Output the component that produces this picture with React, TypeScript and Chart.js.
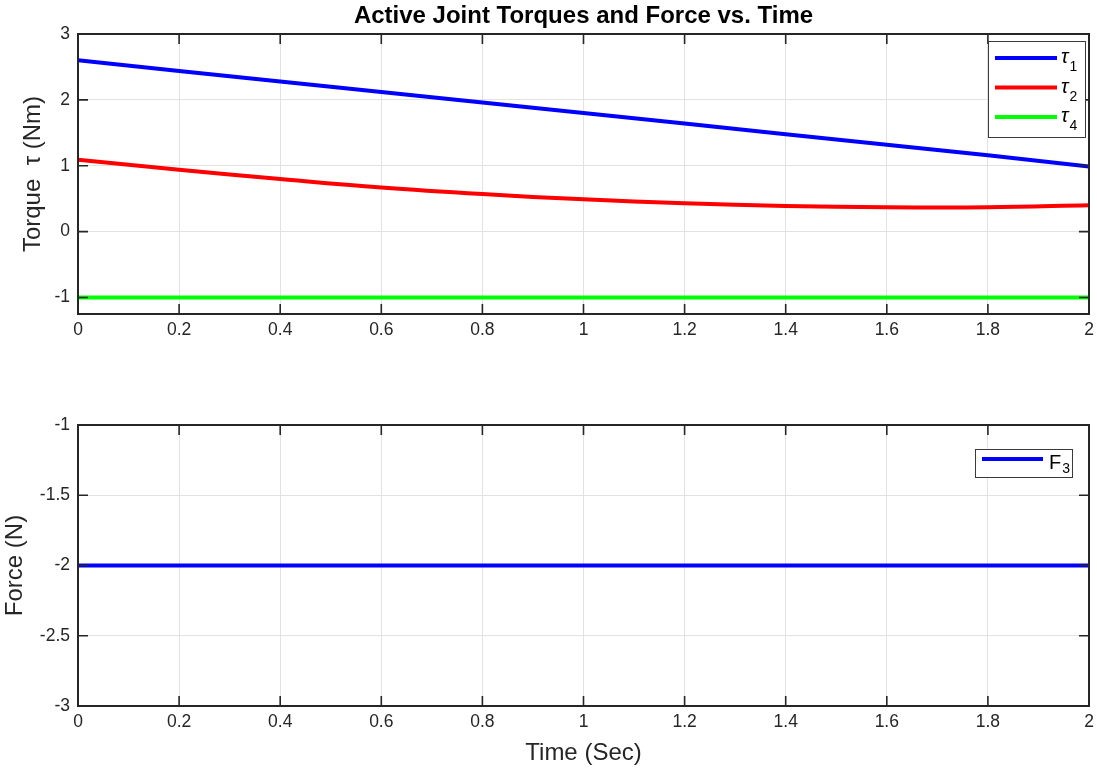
import React, { useEffect, useRef } from "react";
import { Chart, registerables } from "chart.js";

Chart.register(...registerables);

// ---- data ----
const TIME = [0, 0.2, 0.4, 0.6, 0.8, 1.0, 1.2, 1.4, 1.6, 1.8, 2.0];
const TAU1 = [2.6, 2.44, 2.28, 2.12, 1.96, 1.8, 1.64, 1.48, 1.32, 1.16, 0.99];
const TAU2 = [1.09, 0.94, 0.8, 0.67, 0.57, 0.49, 0.43, 0.39, 0.37, 0.37, 0.4];
const TAU4 = [-1, -1, -1, -1, -1, -1, -1, -1, -1, -1, -1];
const F3 = [-2, -2, -2, -2, -2, -2, -2, -2, -2, -2, -2];

const X_TICKS = [0, 0.2, 0.4, 0.6, 0.8, 1, 1.2, 1.4, 1.6, 1.8, 2];
const TOP_Y_TICKS = [-1, 0, 1, 2, 3];
const BOTTOM_Y_TICKS = [-3, -2.5, -2, -1.5, -1];

const TOP_LABELS = ["τ_1", "τ_2", "τ_4"];
const BOTTOM_LABELS = ["F_3"];

const TITLE = "Active Joint Torques and Force vs. Time";
const TOP_Y_TITLE = "Torque  τ (Nm)";
const BOTTOM_Y_TITLE = "Force (N)";
const X_TITLE = "Time (Sec)";

const FONT = "'Liberation Sans', Arial, Helvetica, sans-serif";
const AXIS_COLOR = "#262626";
const GRID_COLOR = "#e2e2e2";
const LINE_W = 4;

const toPoints = (ys: number[]) => TIME.map((t, i) => ({ x: t, y: ys[i] }));

const framePlugin = {
  id: "matlabFrame",
  afterDatasetsDraw(chart: any) {
    const { ctx, chartArea } = chart;
    const { left, right, top, bottom } = chartArea;
    const x = chart.scales.x;
    const y = chart.scales.y;
    const L = 10;
    ctx.save();
    ctx.strokeStyle = AXIS_COLOR;
    ctx.lineWidth = 1.6;
    ctx.beginPath();
    x.ticks.forEach((t: any) => {
      const px = x.getPixelForValue(t.value);
      ctx.moveTo(px, bottom);
      ctx.lineTo(px, bottom - L);
      ctx.moveTo(px, top);
      ctx.lineTo(px, top + L);
    });
    y.ticks.forEach((t: any) => {
      const py = y.getPixelForValue(t.value);
      ctx.moveTo(left, py);
      ctx.lineTo(left + L, py);
      ctx.moveTo(right, py);
      ctx.lineTo(right - L, py);
    });
    ctx.stroke();
    ctx.lineWidth = 2;
    ctx.strokeRect(left, top, right - left, bottom - top);
    ctx.restore();
  },
};

const legendPlugin = {
  id: "matlabLegend",
  afterDraw(chart: any, _args: any, opts: any) {
    const { ctx, chartArea } = chart;
    const bx = chartArea.right - opts.rightOffset;
    const by = chartArea.top + opts.topOffset;
    ctx.save();
    ctx.fillStyle = "#ffffff";
    ctx.fillRect(bx, by, opts.width, opts.height);
    ctx.strokeStyle = "#3a3a3a";
    ctx.lineWidth = 1;
    ctx.strokeRect(bx + 0.5, by + 0.5, opts.width, opts.height);
    chart.data.datasets.forEach((ds: any, i: number) => {
      const ly = by + opts.firstRow + i * opts.rowHeight;
      ctx.strokeStyle = ds.borderColor;
      ctx.lineWidth = ds.borderWidth;
      ctx.beginPath();
      ctx.moveTo(bx + opts.lineStart, ly);
      ctx.lineTo(bx + opts.lineStart + opts.lineLen, ly);
      ctx.stroke();
      const [main, sub] = String(ds.label).split("_");
      ctx.fillStyle = "#000000";
      ctx.textBaseline = "alphabetic";
      ctx.textAlign = "left";
      ctx.font = (opts.italicMain ? "italic " : "") + "20px " + FONT;
      const tx = bx + opts.textStart;
      ctx.fillText(main, tx, ly + opts.mainBase);
      const w = ctx.measureText(main).width;
      if (sub) {
        ctx.font = "14px " + FONT;
        ctx.fillText(sub, tx + w + 1, ly + opts.subBase);
      }
    });
    ctx.restore();
  },
};

function makeScales(yMin: number, yMax: number, yTicks: number[], yTitle: string, yTitlePad: number, xHeight: number, showXTitle: boolean) {
  return {
    x: {
      type: "linear",
      min: 0,
      max: 2,
      afterBuildTicks: (s: any) => {
        s.ticks = X_TICKS.map((v) => ({ value: v }));
      },
      afterFit: (s: any) => {
        s.height = xHeight;
        s.paddingLeft = 0;
        s.paddingRight = 0;
      },
      grid: { color: GRID_COLOR, lineWidth: 1, drawTicks: false },
      border: { display: false },
      ticks: {
        color: AXIS_COLOR,
        font: { family: FONT, size: 17.5 },
        padding: 6,
        maxRotation: 0,
        autoSkip: false,
        callback: (v: any) => String(Math.round(Number(v) * 10) / 10),
      },
      title: {
        display: showXTitle,
        text: X_TITLE,
        color: AXIS_COLOR,
        font: { family: FONT, size: 24 },
        padding: { top: 0, bottom: 2 },
      },
    },
    y: {
      type: "linear",
      min: yMin,
      max: yMax,
      afterBuildTicks: (s: any) => {
        s.ticks = yTicks.map((v) => ({ value: v }));
      },
      afterFit: (s: any) => {
        s.width = 78;
        s.paddingTop = 0;
        s.paddingBottom = 0;
      },
      grid: { color: GRID_COLOR, lineWidth: 1, drawTicks: false },
      border: { display: false },
      ticks: {
        color: AXIS_COLOR,
        font: { family: FONT, size: 17.5 },
        padding: 8,
        autoSkip: false,
        callback: (v: any) => String(v),
      },
      title: {
        display: true,
        text: yTitle,
        color: AXIS_COLOR,
        font: { family: FONT, size: 24 },
        padding: { top: yTitlePad, bottom: 0 },
      },
    },
  };
}

function useChart(ref: React.RefObject<HTMLCanvasElement | null>, build: () => any) {
  useEffect(() => {
    if (!ref.current) return;
    const chart = new Chart(ref.current, build());
    return () => chart.destroy();
  }, []);
}

export default function App() {
  const topRef = useRef<HTMLCanvasElement | null>(null);
  const botRef = useRef<HTMLCanvasElement | null>(null);

  useChart(topRef, () => ({
    type: "line",
    data: {
      datasets: [
        { label: TOP_LABELS[0], data: toPoints(TAU1), borderColor: "#0000ff", borderWidth: LINE_W, pointRadius: 0, tension: 0 },
        { label: TOP_LABELS[1], data: toPoints(TAU2), borderColor: "#ff0000", borderWidth: LINE_W, pointRadius: 0, tension: 0.4 },
        { label: TOP_LABELS[2], data: toPoints(TAU4), borderColor: "#00ff00", borderWidth: LINE_W, pointRadius: 0, tension: 0 },
      ],
    },
    options: {
      animation: false,
      responsive: false,
      devicePixelRatio: 1,
      layout: { padding: { left: 0, right: 8, top: 0, bottom: 0 } },
      scales: makeScales(-1.25, 3, TOP_Y_TICKS, TOP_Y_TITLE, 19, 26, false),
      plugins: {
        legend: { display: false },
        tooltip: { enabled: false },
        title: {
          display: true,
          fullSize: false,
          text: TITLE,
          color: "#000000",
          font: { family: FONT, size: 24, weight: "bold" },
          padding: { top: 2, bottom: 3.2 },
        },
        matlabLegend: {
          rightOffset: 101,
          topOffset: 7,
          width: 97,
          height: 96,
          firstRow: 17,
          rowHeight: 29.5,
          lineStart: 7,
          lineLen: 62,
          textStart: 73,
          mainBase: 5,
          subBase: 13,
          italicMain: true,
        },
      },
    },
    plugins: [framePlugin, legendPlugin],
  }));

  useChart(botRef, () => ({
    type: "line",
    data: {
      datasets: [
        { label: BOTTOM_LABELS[0], data: toPoints(F3), borderColor: "#0000ff", borderWidth: LINE_W, pointRadius: 0, tension: 0 },
      ],
    },
    options: {
      animation: false,
      responsive: false,
      devicePixelRatio: 1,
      layout: { padding: { left: 0, right: 8, top: 85, bottom: 0 } },
      scales: makeScales(-3, -1, BOTTOM_Y_TICKS, BOTTOM_Y_TITLE, 1, 64, true),
      plugins: {
        legend: { display: false },
        tooltip: { enabled: false },
        matlabLegend: {
          rightOffset: 114,
          topOffset: 24,
          width: 97,
          height: 28,
          firstRow: 10,
          rowHeight: 29.5,
          lineStart: 7,
          lineLen: 61,
          textStart: 74,
          mainBase: 10,
          subBase: 14,
          italicMain: false,
        },
      },
    },
    plugins: [framePlugin, legendPlugin],
  }));

  return (
    <div style={{ position: "absolute", left: 0, top: 0, width: 1097, height: 770, background: "#ffffff" }}>
      <canvas ref={topRef} width={1097} height={340} style={{ position: "absolute", left: 0, top: 0, width: 1097, height: 340, display: "block" }} />
      <canvas ref={botRef} width={1097} height={430} style={{ position: "absolute", left: 0, top: 340, width: 1097, height: 430, display: "block" }} />
    </div>
  );
}
